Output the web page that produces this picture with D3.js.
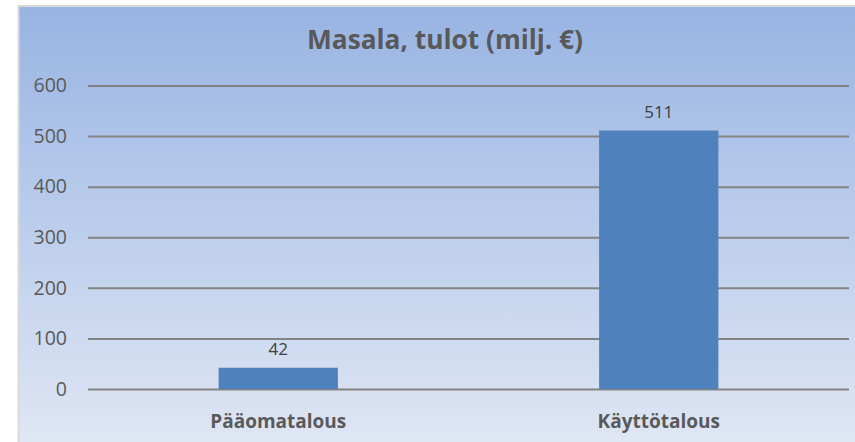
<!DOCTYPE html>
<html>
<head>
<meta charset="utf-8">
<script src="https://cdn.jsdelivr.net/npm/d3@7"></script>
<style>
body { margin: 0; background: #fff; }
</style>
</head>
<body>
<script>
var w = 855;
var h = 442;

var categories = ["Pääomatalous", "Käyttötalous"];
var values = [42, 511];
var yTicks = [0, 100, 200, 300, 400, 500, 600];
var title = "Masala, tulot (milj. €)";

var plotLeft = 88, plotRight = 849, plotTop = 85.5, plotBottom = 389;

var svg = d3.select("body")
    .append("svg")
    .attr("width", w)
    .attr("height", h);

var grad = svg.append("defs").append("linearGradient")
    .attr("id", "bg")
    .attr("x1", 0).attr("y1", 0)
    .attr("x2", 0).attr("y2", 1);
grad.append("stop").attr("offset", "0%").attr("stop-color", "#98b4e3");
grad.append("stop").attr("offset", "100%").attr("stop-color", "#e0e7f4");

svg.append("rect")
    .attr("x", 18.5)
    .attr("y", 6)
    .attr("width", w)
    .attr("height", h)
    .attr("fill", "url(#bg)")
    .attr("stroke", "#d9d9d9")
    .attr("stroke-width", 2);

var y = d3.scaleLinear()
    .domain([0, 600])
    .range([plotBottom, plotTop]);

var x = d3.scaleBand()
    .domain(categories)
    .range([plotLeft, plotRight]);

var yAxis = svg.append("g")
    .attr("transform", "translate(" + plotLeft + ",0)")
    .call(d3.axisLeft(y)
        .tickValues(yTicks)
        .tickSize(-(plotRight - plotLeft))
        .tickPadding(21));
yAxis.select(".domain").remove();
yAxis.selectAll("line")
    .attr("stroke", "#838383")
    .attr("stroke-width", 2);
yAxis.selectAll("text")
    .attr("font-family", "'Open Sans', sans-serif")
    .attr("font-size", "19.5px")
    .attr("fill", "#595959");

// excel gap width ~219%
var barW = x.bandwidth() / 3.19;

svg.selectAll("rect.bar")
    .data(values)
    .enter()
    .append("rect")
    .attr("class", "bar")
    .attr("x", function(d, i) {
        return x(categories[i]) + (x.bandwidth() - barW) / 2;
    })
    .attr("y", function(d) { return y(d); })
    .attr("width", barW)
    .attr("height", function(d) { return y(0) - y(d); })
    .attr("fill", "#4f81bd");

svg.selectAll("text.val")
    .data(values)
    .enter()
    .append("text")
    .attr("class", "val")
    .text(function(d) { return d; })
    .attr("x", function(d, i) { return x(categories[i]) + x.bandwidth() / 2; })
    .attr("y", function(d) { return y(d) - 13; })
    .attr("font-family", "'Open Sans', sans-serif")
    .attr("font-size", "17px")
    .attr("fill", "#404040")
    .attr("text-anchor", "middle");

var xAxis = svg.append("g")
    .attr("transform", "translate(0," + plotBottom + ")")
    .call(d3.axisBottom(x).tickSize(0).tickPadding(0));
xAxis.select(".domain").remove();
xAxis.selectAll("text")
    .attr("y", 39)
    .attr("dy", 0)
    .attr("font-family", "'Open Sans', sans-serif")
    .attr("font-size", "19px")
    .attr("font-weight", "bold")
    .attr("fill", "#595959");

svg.append("text")
    .text(title)
    .attr("x", 445)
    .attr("y", 49)
    .attr("text-anchor", "middle")
    .attr("font-family", "'Open Sans', sans-serif")
    .attr("font-size", "26px")
    .attr("font-weight", "bold")
    .attr("fill", "#595959")
    .attr("textLength", 276)
    .attr("lengthAdjust", "spacingAndGlyphs");
</script>
</body>
</html>
